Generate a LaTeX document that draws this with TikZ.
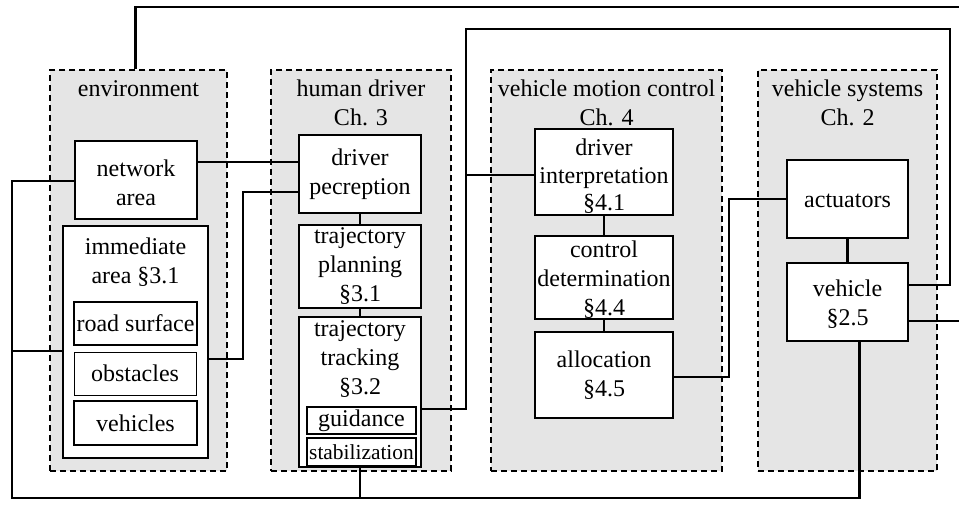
\documentclass[tikz,border=0pt]{standalone}
\usepackage{fontspec}
\setmainfont{Liberation Serif}
\usetikzlibrary{calc}

\begin{document}
\begin{tikzpicture}[x=0.5pt,y=-0.5pt,
   every node/.style={font=\fontsize{12}{14.5}\selectfont, align=center},
   group/.style={draw, dash pattern=on 3pt off 2pt, line width=1.2pt, fill=black!10, minimum height=200.5pt},
   block/.style={draw, fill=white, line width=0.9pt, inner sep=1pt},
   textdrop/.style={execute at begin node={\rule{0pt}{#1}}},
   title/.style={anchor=north, inner sep=0pt},
   wire/.style={line width=1.4pt}]
   \useasboundingbox (0,0) rectangle (959,508);
   % groups
   \node (env) at (138.5,270.5) [group, minimum width=88.5pt] {};
   \node (hd) at (361,270.5) [group, minimum width=90pt] {};
   \node (vmc) at (606.5,270.5) [group, minimum width=115.5pt] {};
   \node (vs) at (847.5,270.5) [group, minimum width=89.5pt] {};
   \node (envt) at ($(env.north)+(0,7)$) [title] {\strut environment};
   \node (hdt) at ($(hd.north)+(0,7)$) [title] {\strut human driver\\Ch. 3};
   \node (vmct) at ($(vmc.north)+(0,7)$) [title] {\strut vehicle motion control\\Ch. 4};
   \node (vst) at ($(vs.north)+(0,7)$) [title] {\strut vehicle systems\\Ch. 2};
   % environment
   \node (net) at (136,180) [block, textdrop=25.5pt, minimum width=61pt, minimum height=39pt] {network\\area};
   \node (imm) at (135.5,342) [block, minimum width=72.5pt, minimum height=116pt] {};
   \node (immt) at ($(imm.north)+(0,9)$) [title] {\strut immediate\\area §3.1};
   \node (road) at (135.5,323.5) [block, minimum width=61.5pt, minimum height=21.5pt] {road surface};
   \node (obst) at (135,373.5) [block, line width=0.5pt, minimum width=61pt, minimum height=21.5pt] {obstacles};
   \node (vehs) at (135.5,423) [block, minimum width=61.5pt, minimum height=22pt] {vehicles};
   % human driver
   \node (perc) at (360,174) [block, minimum width=61pt, minimum height=39pt] {driver\\pecreption};
   \node (plan) at (360,266.5) [block, minimum width=61pt, minimum height=41.5pt] {trajectory\\planning\\§3.1};
   \node (track) at (360,392) [block, minimum width=61pt, minimum height=75pt] {};
   \node (trackt) at ($(track.north)+(0,0)$) [title] {\strut trajectory\\tracking\\§3.2};
   \node (guid) at (361.5,420.5) [block, minimum width=54.5pt, minimum height=13.5pt] {guidance};
   \node (stab) at (361.5,452) [block, minimum width=54.5pt, minimum height=14pt, font=\fontsize{10.7}{12}\selectfont] {stabilization};
   % vehicle motion control
   \node (interp) at (604,172) [block, textdrop=40.5pt, inner sep=0pt, minimum width=69pt, minimum height=43pt, font=\fontsize{12}{13.8}\selectfont] {driver\\interpretation\\§4.1};
   \node (det) at (604,277.5) [block, textdrop=39pt, inner sep=0pt, minimum width=69pt, minimum height=41.5pt] {control\\determination\\§4.4};
   \node (alloc) at (604,375) [block, minimum width=69pt, minimum height=43pt] {allocation\\§4.5};
   % vehicle systems
   \node (act) at (847.5,199) [block, textdrop=9pt, minimum width=60.5pt, minimum height=39pt] {actuators};
   \node (veh) at (847.5,302) [block, textdrop=24.5pt, minimum width=60.5pt, minimum height=39pt] {vehicle\\§2.5};
   % connections
   \coordinate (topR) at (965,7);
   \coordinate (busT) at (466,29);
   \coordinate (busTR) at (950,29);
   \coordinate (busB) at (12,498);
   \coordinate (outR) at (965,321);
   \coordinate (immL) at ($(imm.west)+(0,9)$);
   \coordinate (netR) at ($(net.east)+(0,-18)$);
   \coordinate (interpL) at ($(interp.west)+(0,3)$);
   \draw[wire] ($(env.north)+(-3,0)$) |- (topR);
   \draw[wire] ($(track.east)+(0,17)$) -| (busT) -- (busTR) |- ($(veh.east)+(0,-17)$);
   \draw[wire] (interpL) -- (interpL -| busT);
   \draw[wire] ($(veh.east)+(0,19)$) -- (outR);
   \draw[wire] ($(net.west)+(0,1)$) -| (busB) -| ($(veh.south)+(12,0)$);
   \draw[wire] (track.south) -- (track.south |- busB);
   \draw[wire] (immL) -- (immL -| busB);
   \draw[wire] ($(imm.east)+(0,17)$) -- ++(34,0) |- ($(perc.west)+(0,18)$);
   \draw[wire] (netR) -- (netR -| perc.west);
   \draw[wire] ($(alloc.east)+(0,2)$) -- ++(55,0) |- (act.west);
   \draw[wire] (perc) -- (plan) (plan) -- (track) (interp) -- (det) (det) -- (alloc) (act) -- (veh);
\end{tikzpicture}
\end{document}
